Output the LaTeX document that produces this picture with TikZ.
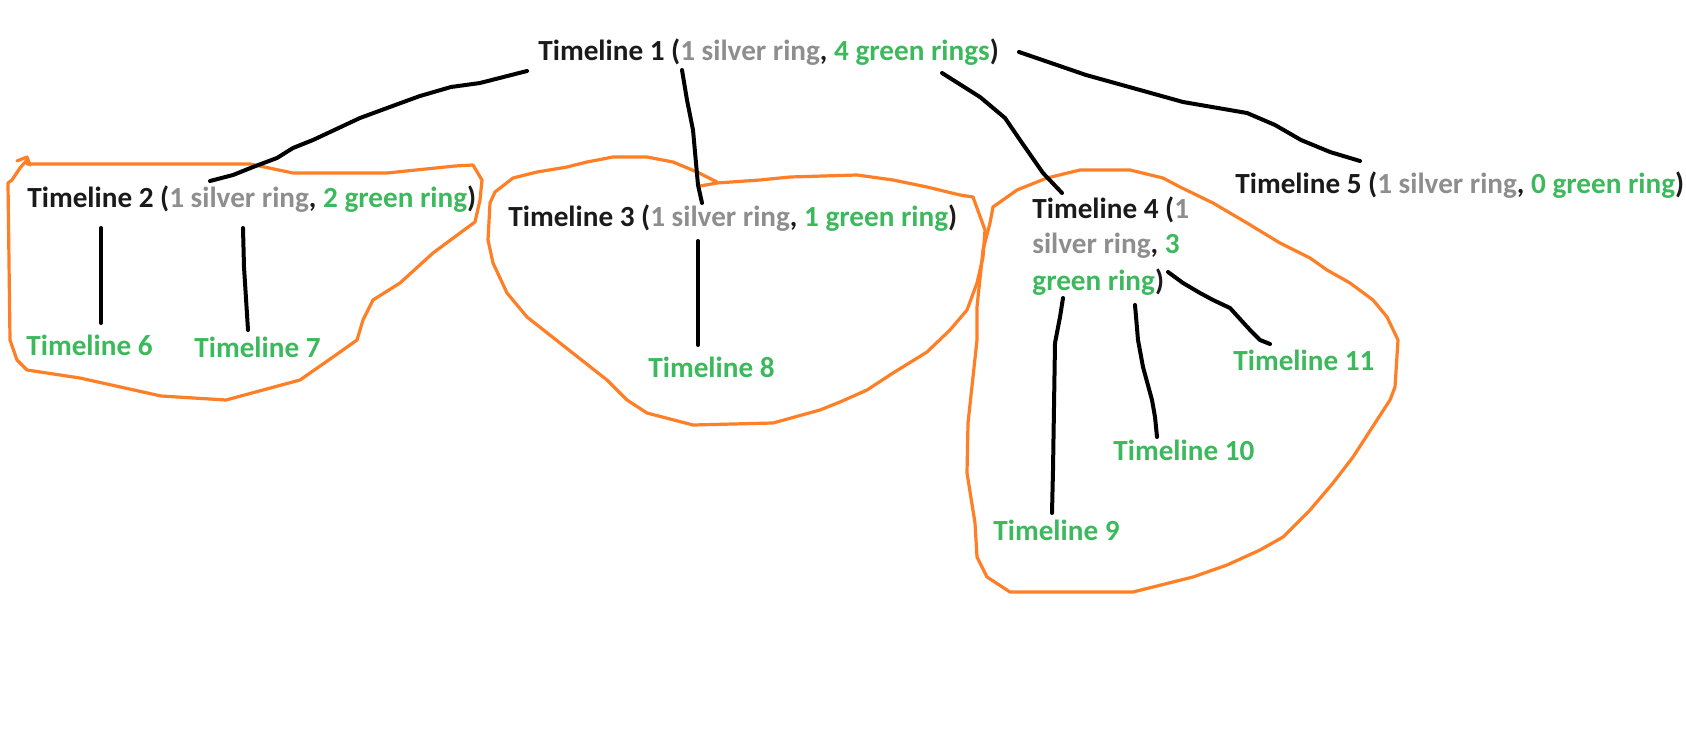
\documentclass[tikz,border=0pt]{standalone}
\usepackage{fontspec}
\setmainfont{Carlito}
\definecolor{tblack}{HTML}{1A1A1A}
\definecolor{tgray}{HTML}{8E8E8E}
\definecolor{tgreen}{HTML}{3CB95C}
\definecolor{blobc}{HTML}{FF7F27}
\newcommand{\TLsilver}[1]{\textcolor{tgray}{#1}}
\newcommand{\TLgreen}[1]{\textcolor{tgreen}{#1}}
\begin{document}
\begin{tikzpicture}[x=0.5pt,y=-0.5pt,
  lbl/.style={anchor=base west,inner sep=0pt,font=\fontsize{14.6}{17}\selectfont\bfseries,text=tblack},
  glbl/.style={lbl,text=tgreen},
  conn/.style={draw=black,line width=2pt,line join=round,line cap=round},
  ring/.style={draw=blobc,line width=1.6pt,line join=round,line cap=round}]
\useasboundingbox[fill=white] (0,0) rectangle (1686,739);

% orange groups
\draw[ring] (27,164) -- (250,164) -- (293,173) -- (387,173) -- (455,166) -- (473,165) -- (482,180) -- (480,200) -- (475,222) -- (460,233) -- (433,253) -- (400,283) -- (373,300) -- (363,320) -- (357,340) -- (333,357) -- (300,380) -- (226,400) -- (161,396) -- (80,378) -- (27,370) -- (17,360) -- (10,340) -- (8,183) -- (12,180) -- (20,168) -- (27,160);
\draw[ring] (17,161) -- (27,157) -- (30,165);
\draw[ring] (717,182) -- (697,172) -- (673,162) -- (647,157) -- (613,157) -- (587,162) -- (567,167) -- (537,172) -- (513,178) -- (495,192) -- (490,203) -- (488,240) -- (493,263) -- (507,293) -- (527,317) -- (560,343) -- (607,380) -- (627,400) -- (647,413) -- (693,425) -- (773,423) -- (820,410) -- (840,402) -- (867,390) -- (893,373) -- (927,352) -- (950,330) -- (967,310) -- (977,283) -- (983,257) -- (985,230) -- (973,197) -- (960,195) -- (927,187) -- (893,180) -- (857,175) -- (790,177) -- (760,180) -- (717,183) -- (700,186);
\draw[ring] (993,207) -- (1017,190) -- (1047,178) -- (1080,170) -- (1130,170) -- (1163,178) -- (1180,187) -- (1213,203) -- (1247,223) -- (1280,243) -- (1310,258) -- (1327,270) -- (1350,283) -- (1373,300) -- (1387,317) -- (1398,340) -- (1395,387) -- (1390,400) -- (1377,420) -- (1353,457) -- (1333,483) -- (1310,510) -- (1283,537) -- (1260,550) -- (1227,565) -- (1193,577) -- (1133,592) -- (1010,592) -- (987,577) -- (977,557) -- (975,523) -- (967,473) -- (968,423) -- (977,340) -- (977,307) -- (983,250) -- (990,223) -- cycle;

% labels
\node[lbl] (t1) at (538,61) {Timeline 1 (\TLsilver{1 silver ring}, \TLgreen{4 green rings})};
\node[lbl] (t2) at (27,207) {Timeline 2 (\TLsilver{1 silver ring}, \TLgreen{2 green ring})};
\node[lbl] (t3) at (508,226) {Timeline 3 (\TLsilver{1 silver ring}, \TLgreen{1 green ring})};
\node[lbl] (t4) at (1032,218) {Timeline 4 (\TLsilver{1}};
\node[lbl] (t4b) at (1032,253) {\TLsilver{silver ring}, \TLgreen{3}};
\node[lbl] (t4c) at (1032,290) {\TLgreen{green ring})};
\node[lbl] (t5) at (1235,193) {Timeline 5 (\TLsilver{1 silver ring}, \TLgreen{0 green ring})};
\node[glbl] (t6) at (26,355) {Timeline 6};
\node[glbl] (t7) at (194,357) {Timeline 7};
\node[glbl] (t8) at (648,377) {Timeline 8};
\node[glbl] (t9) at (993,540) {Timeline 9};
\node[glbl] (t10) at (1113,460) {Timeline 10};
\node[glbl] (t11) at (1233,370) {Timeline 11};

% connector end points
\coordinate (a12) at (527,71);  \coordinate (b12) at (210,181);
\coordinate (a13) at (682,70);  \coordinate (b13) at (702,203);
\coordinate (a14) at (942,73);  \coordinate (b14) at (1062,193);
\coordinate (a15) at (1019,52); \coordinate (b15) at (1360,161);
\coordinate (a26) at (101,228); \coordinate (b26) at (101,323);
\coordinate (a27) at (243,228); \coordinate (b27) at (248,330);
\coordinate (a38) at (698,241); \coordinate (b38) at (698,345);
\coordinate (a49) at (1063,298); \coordinate (b49) at (1052,513);
\coordinate (a410) at (1135,305); \coordinate (b410) at (1157,437);
\coordinate (a411) at (1168,272); \coordinate (b411) at (1270,344);

% connectors
\draw[conn] (a12) -- (480,83) -- (451,87) -- (420,96) -- (398,104) -- (360,118) -- (313,140) -- (293,148) -- (277,158) -- (253,167) -- (233,175) -- (b12);
\draw[conn] (a13) -- (687,100) -- (693,130) -- (698,185) -- (b13);
\draw[conn] (a14) -- (980,97) -- (1005,118) -- (1020,140) -- (1043,173) -- (b14);
\draw[conn] (a15) -- (1086,75) -- (1140,90) -- (1183,102) -- (1247,113) -- (1275,125) -- (1301,140) -- (1330,152) -- (b15);
\draw[conn] (a26) -- (b26);
\draw[conn] (a27) -- (244,267) -- (b27);
\draw[conn] (a38) -- (b38);
\draw[conn] (a49) -- (1060,317) -- (1055,343) -- (1053,470) -- (b49);
\draw[conn] (a410) -- (1138,340) -- (1143,367) -- (1152,400) -- (1155,417) -- (b410);
\draw[conn] (a411) -- (1183,283) -- (1200,293) -- (1213,300) -- (1230,308) -- (1250,330) -- (1260,340) -- (b411);
\end{tikzpicture}
\end{document}
